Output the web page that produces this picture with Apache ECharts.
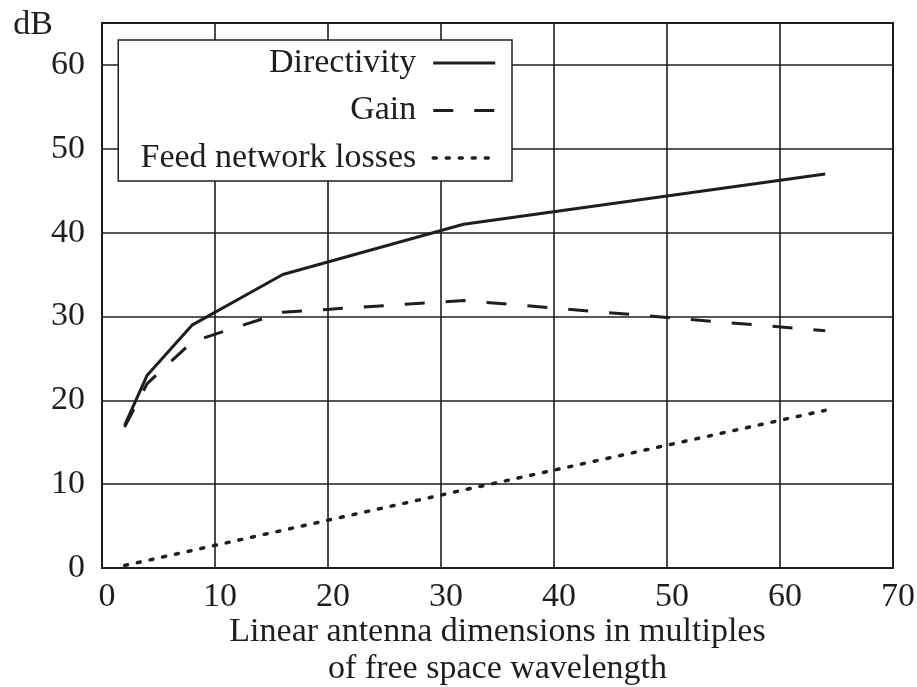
<!DOCTYPE html>
<html>
<head>
<meta charset="utf-8">
<script src="https://cdn.jsdelivr.net/npm/echarts@6/dist/echarts.min.js"></script>
<style>
  html, body { margin: 0; padding: 0; background: #fff; }
  #chart { width: 917px; height: 687px; }
</style>
</head>
<body>
<div id="chart"></div>
<script>
// Antenna size in free-space wavelengths
const sizes = [2, 4, 8, 16, 32, 64];
// Levels in dB
const directivity = [17, 23, 29, 35, 41, 47];
const gain = [16.8, 22, 27, 30.5, 31.9, 28.3];
const feedLosses = [0.3, 0.9, 2.1, 4.5, 9.3, 18.8];

const seriesNames = ['Directivity', 'Gain', 'Feed network losses'];
const xTitle = 'Linear antenna dimensions in multiples\nof free space wavelength';
const yTitle = 'dB';

const FONT = 'Liberation Serif';
const INK = '#1e1e1e';

// Stroke styles shared by each curve and its legend sample
const strokes = [
  { color: INK, width: 3, type: 'solid', cap: 'butt' },
  { color: INK, width: 3, type: [20, 21], cap: 'butt' },
  { color: INK, width: 3.5, type: [3, 10], cap: 'round' }
];

function pairs(ys) {
  return sizes.map((x, i) => [x, ys[i]]);
}

const chart = echarts.init(document.getElementById('chart'), null, { renderer: 'canvas' });

chart.setOption({
  backgroundColor: '#fff',
  animation: false,
  textStyle: { fontFamily: FONT, color: INK },
  grid: {
    left: 102, right: 24, top: 23, bottom: 119,
    outerBoundsMode: 'none',
    containLabel: false,
    show: true, borderColor: INK, borderWidth: 2, backgroundColor: 'transparent'
  },
  legend: {
    orient: 'vertical',
    align: 'right',
    right: 405,
    top: 40,
    padding: [6, 15, 6, 8],
    itemGap: 13.5,
    itemWidth: 62,
    itemHeight: 14,
    backgroundColor: '#fff',
    borderColor: INK,
    borderWidth: 1.5,
    borderRadius: 0,
    selectedMode: false,
    itemStyle: { opacity: 0, color: 'transparent', borderWidth: 0 },
    textStyle: {
      fontFamily: FONT, fontSize: 34, color: INK, lineHeight: 34,
      width: 290, align: 'right', padding: [0, 12, 0, 0]
    },
    data: seriesNames.map((name, i) => ({
      name: name,
      itemStyle: { opacity: 0, color: 'transparent', borderWidth: 0 },
      lineStyle: Object.assign({}, strokes[i])
    }))
  },
  xAxis: {
    type: 'value',
    min: 0, max: 70, interval: 10,
    name: xTitle,
    nameLocation: 'middle',
    nameGap: 46,
    nameMoveOverlap: false,
    nameTextStyle: { fontFamily: FONT, fontSize: 34, color: INK, lineHeight: 37, verticalAlign: 'top' },
    axisLine: { show: true, lineStyle: { color: INK, width: 2 } },
    axisTick: { show: false },
    axisLabel: { fontFamily: FONT, fontSize: 34, color: INK, margin: 12, padding: [0, 0, 0, 10] },
    splitLine: { show: true, lineStyle: { color: INK, width: 1.6 } }
  },
  yAxis: {
    type: 'value',
    min: 0, max: 65, interval: 10,
    name: yTitle,
    nameLocation: 'end',
    nameGap: -2,
    nameMoveOverlap: false,
    nameTextStyle: {
      fontFamily: FONT, fontSize: 34, color: INK,
      align: 'right', verticalAlign: 'middle', padding: [0, 49, 0, 0]
    },
    axisLine: { show: true, lineStyle: { color: INK, width: 2 } },
    axisTick: { show: false },
    axisLabel: {
      fontFamily: FONT, fontSize: 34, color: INK, margin: 17,
      showMaxLabel: false,
      formatter: v => (v % 10 === 0 ? String(v) : '')
    },
    splitLine: { show: true, lineStyle: { color: INK, width: 1.6 } }
  },
  series: [
    {
      name: seriesNames[0], type: 'line', data: pairs(directivity),
      symbol: 'none', color: INK, lineStyle: strokes[0]
    },
    {
      name: seriesNames[1], type: 'line', data: pairs(gain),
      symbol: 'none', color: INK, lineStyle: strokes[1]
    },
    {
      name: seriesNames[2], type: 'line', data: pairs(feedLosses),
      symbol: 'none', color: INK, lineStyle: strokes[2]
    }
  ]
});
</script>
</body>
</html>
